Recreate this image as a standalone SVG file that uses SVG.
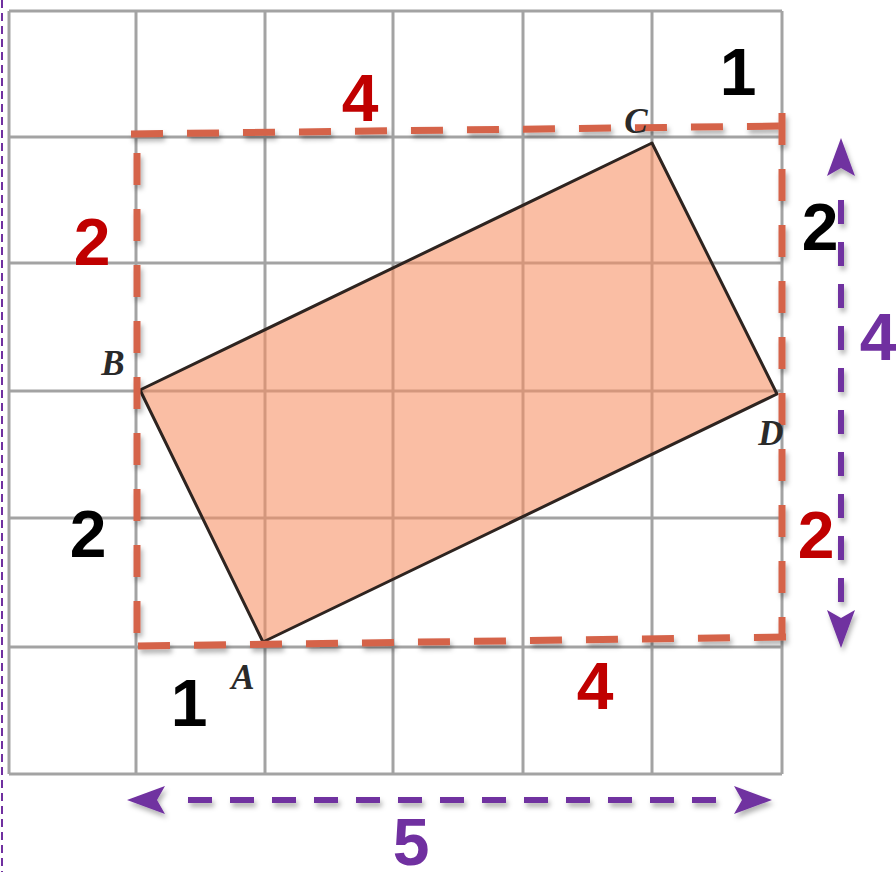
<svg xmlns="http://www.w3.org/2000/svg" width="896" height="872" viewBox="0 0 896 872">
  <style>
    .grid line { stroke: #a3a3a3; stroke-width: 3; }
    .bbox line { stroke: #d5634a; stroke-width: 7; stroke-dasharray: 32 24; fill: none; }
    .arr { stroke: #7030a0; stroke-width: 6; stroke-dasharray: 24 18; fill: none; }
    .head { fill: #7030a0; }
    .num { font-family: "Liberation Sans", Arial, sans-serif; font-weight: bold; font-size: 66px; text-anchor: middle; }
    .red { fill: #c00000; }
    .blk { fill: #000000; }
    .pur { fill: #7030a0; }
    .vtx { font-family: "Liberation Serif", "Times New Roman", serif; font-style: italic; font-weight: bold; font-size: 35px; fill: #2a2a2a; text-anchor: middle; }
  </style>
  <defs>
    <filter id="sh" x="-20%" y="-50%" width="140%" height="200%">
      <feDropShadow dx="2" dy="4" stdDeviation="2.5" flood-color="#000" flood-opacity="0.3"/>
    </filter>
  </defs>
  <rect x="0" y="0" width="896" height="872" fill="#ffffff"/>
  <line x1="2" y1="0" x2="2" y2="872" stroke="#7030a0" stroke-width="2" stroke-dasharray="8 5"/>

  <g id="grid" class="grid">
    <line x1="9" y1="11" x2="9" y2="774"/>
    <line x1="136" y1="11" x2="136" y2="774"/>
    <line x1="265" y1="11" x2="265" y2="774"/>
    <line x1="393" y1="11" x2="393" y2="774"/>
    <line x1="523" y1="11" x2="523" y2="774"/>
    <line x1="652" y1="11" x2="652" y2="774"/>
    <line x1="782" y1="11" x2="782" y2="774"/>
    <line x1="9" y1="11" x2="782" y2="11"/>
    <line x1="9" y1="137" x2="782" y2="137"/>
    <line x1="9" y1="263" x2="782" y2="263"/>
    <line x1="9" y1="391" x2="782" y2="391"/>
    <line x1="9" y1="518" x2="782" y2="518"/>
    <line x1="9" y1="647" x2="782" y2="647"/>
    <line x1="9" y1="774" x2="782" y2="774"/>
  </g>

  <g id="rectangle-ABCD">
    <polygon points="263,642 140,390 652,143 777,394" fill="#f68f62" fill-opacity="0.58"/>
    <polygon points="263,642 140,390 652,143 777,394" fill="none" stroke="#2e2420" stroke-width="3" stroke-linejoin="round"/>
  </g>

  <g id="bounding-box" class="bbox" filter="url(#sh)">
    <line x1="131" y1="134" x2="782" y2="126"/>
    <line x1="782" y1="113" x2="782" y2="637"/>
    <line x1="138" y1="646" x2="786" y2="637"/>
    <line x1="137" y1="153" x2="137" y2="646"/>
  </g>

  <g id="connectors" filter="url(#sh)">
    <line class="arr" x1="841" y1="200" x2="841" y2="602"/>
    <polygon class="head" points="841,138 855,176 841,168 827,176"/>
    <polygon class="head" points="841,648 855,610 841,618 827,610"/>
    <line class="arr" x1="188" y1="800" x2="718" y2="800"/>
    <polygon class="head" points="127,800 165,786 157,800 165,814"/>
    <polygon class="head" points="772,800 734,786 742,800 734,814"/>
  </g>

  <g id="vertex-labels">
    <text class="vtx" x="243" y="689">A</text>
    <text class="vtx" x="113" y="375">B</text>
    <text class="vtx" x="636" y="133">C</text>
    <text class="vtx" x="771" y="445">D</text>
  </g>

  <g id="length-labels">
    <text class="num red" x="360" y="121">4</text>
    <text class="num blk" x="738" y="95">1</text>
    <text class="num red" x="92" y="265">2</text>
    <text class="num blk" x="820" y="250">2</text>
    <text class="num pur" x="878" y="360">4</text>
    <text class="num blk" x="88" y="557">2</text>
    <text class="num red" x="816" y="558">2</text>
    <text class="num blk" x="189" y="726">1</text>
    <text class="num red" x="595" y="709">4</text>
    <text class="num pur" x="411" y="865">5</text>
  </g>
</svg>
